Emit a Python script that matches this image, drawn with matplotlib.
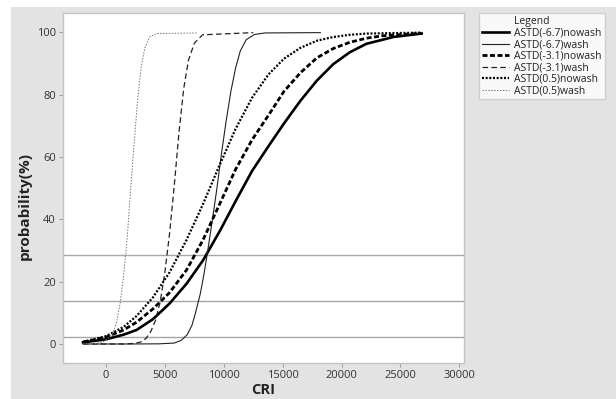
import matplotlib
matplotlib.use("Agg")
import matplotlib.pyplot as plt
from matplotlib.lines import Line2D
from matplotlib.patches import Rectangle

plt.rcParams['font.family'] = ['Open Sans', 'DejaVu Sans']

# ---- data -------------------------------------------------------------
m67_nowash_x = [-1950, 0, 1500, 2600, 4000, 5400, 6850, 8250, 9700, 11100, 12400,
                13800, 15100, 16500, 17900, 19300, 20700, 22100, 24400, 26800]
m67_nowash_y = [0.5, 1.5, 3.0, 4.5, 8.0, 13.0, 19.4, 26.9, 36.5, 46.5, 55.5,
                63.5, 70.7, 78.0, 84.5, 89.8, 93.6, 96.3, 98.5, 99.6]

m67_wash_x = [-1950, 2000, 4500, 5800, 6400, 6900, 7300, 7600, 8000, 8300, 8600,
              9000, 9400, 9800, 10200, 10600, 11000, 11400, 11900, 12600, 13500, 18200]
m67_wash_y = [0.0, 0.0, 0.05, 0.3, 1.2, 3.0, 6.0, 10.0, 16.0, 22.0, 29.0,
              39.0, 49.5, 61.0, 71.5, 81.0, 88.5, 94.0, 97.6, 99.3, 99.8, 99.9]

m31_nowash_x = [-1950, 0, 1500, 2600, 4000, 5400, 6850, 8250, 9600, 11000, 12400,
                13900, 15100, 16500, 17900, 19300, 20700, 22100, 23500, 26800]
m31_nowash_y = [0.6, 2.2, 4.5, 7.0, 11.3, 16.5, 23.8, 33.5, 44.5, 56.0, 65.5,
                74.0, 81.0, 87.0, 91.8, 94.8, 96.8, 98.1, 98.9, 99.7]

m31_wash_x = [-1950, 1500, 2500, 3000, 3400, 3800, 4200, 4600, 5000, 5400, 5800,
              6200, 6600, 7000, 7500, 8200, 12500]
m31_wash_y = [0.0, 0.0, 0.2, 0.7, 1.8, 4.0, 7.5, 13.5, 23.0, 35.5, 51.0,
              68.0, 82.0, 91.0, 96.5, 99.2, 99.9]

p05_nowash_x = [-1950, 0, 1500, 2600, 4000, 5400, 6850, 8250, 9600, 11000, 12400,
                13800, 15100, 16500, 17900, 19300, 20700, 22100, 26800]
p05_nowash_y = [0.7, 2.5, 5.5, 9.0, 15.0, 23.0, 33.5, 45.0, 57.0, 69.0, 79.0,
                86.5, 91.5, 95.0, 97.3, 98.5, 99.2, 99.6, 99.9]

p05_wash_x = [-1950, -1000, -300, 200, 600, 900, 1200, 1500, 1800, 2100, 2400,
              2700, 3000, 3300, 3700, 4300, 7700]
p05_wash_y = [0.0, 0.1, 0.6, 1.8, 3.6, 7.0, 13.0, 22.0, 34.0, 50.0, 65.0,
              79.0, 89.0, 95.0, 98.5, 99.6, 99.8]

ref_levels = [28.6, 13.9, 2.4]

series_names = ["ASTD(-6.7)nowash", "ASTD(-6.7)wash", "ASTD(-3.1)nowash",
                "ASTD(-3.1)wash", "ASTD(0.5)nowash", "ASTD(0.5)wash"]

x_ticks = [0, 5000, 10000, 15000, 20000, 25000, 30000]
y_ticks = [0, 20, 40, 60, 80, 100]

# ---- figure -----------------------------------------------------------
fig = plt.figure(figsize=(6.16, 3.99), dpi=100)
fig.patch.set_facecolor('white')
panel = Rectangle((11 / 616, 0), 1 - 11 / 616, 1 - 6.7 / 399,
                  transform=fig.transFigure, facecolor='#e3e3e3',
                  edgecolor='none', zorder=-10)
fig.add_artist(panel)

ax = fig.add_axes([63 / 616, 1 - 363 / 399, (464.3 - 63) / 616, (363 - 13.3) / 399])
ax.set_zorder(1)
ax.set_facecolor('white')

for lvl in ref_levels:
    ax.axhline(lvl, color='#a6a6a6', lw=1.0, zorder=1)

styles = [
    dict(color='black', lw=1.9, ls='-'),
    dict(color='#222222', lw=0.8, ls='-'),
    dict(color='black', lw=2.0, ls=(0, (1.8, 0.9))),
    dict(color='#222222', lw=0.9, ls=(0, (4.5, 2.6))),
    dict(color='black', lw=1.6, ls=(0, (0.9, 0.75))),
    dict(color='#777777', lw=0.7, ls=(0, (1.5, 1.5))),
]
data = [(m67_nowash_x, m67_nowash_y), (m67_wash_x, m67_wash_y),
        (m31_nowash_x, m31_nowash_y), (m31_wash_x, m31_wash_y),
        (p05_nowash_x, p05_nowash_y), (p05_wash_x, p05_wash_y)]

handles = []
for (xs, ys), st, name in zip(data, styles, series_names):
    ln, = ax.plot(xs, ys, label=name, zorder=3, **st)
    handles.append(ln)

ax.set_xlim(-3650, 30420)
ax.set_ylim(-6.1, 106.1)
ax.set_xticks(x_ticks)
ax.set_yticks(y_ticks)
ax.set_xticklabels([str(t) for t in x_ticks])
ax.set_yticklabels([str(t) for t in y_ticks])

for sp in ax.spines.values():
    sp.set_color('#c4c4c4')
    sp.set_linewidth(1.0)
ax.tick_params(axis='both', direction='out', length=3, width=0.8,
               color='#a0a0a0', labelsize=8, labelcolor='#333333', pad=2)

ax.set_xlabel('CRI', fontsize=10.5, fontweight='bold', color='#222222')
ax.xaxis.label.set_va('center')
ax.xaxis.set_label_coords(0.499, -0.077)
ax.set_ylabel('probability(%)', fontsize=11, fontweight='bold', color='#222222')
ax.yaxis.label.set_va('center')
ax.yaxis.set_label_coords(-0.095, 0.45)

# legend with its caption as the first (handle-less) row
title_handle = Line2D([], [], color='none')
leg = fig.legend([title_handle] + handles, ['Legend'] + series_names,
                 loc='upper left', bbox_to_anchor=(479 / 616, 1 - 13 / 399),
                 frameon=True, fancybox=False, fontsize=7.5,
                 handlelength=2.6, handletextpad=0.45, labelspacing=0.05,
                 borderpad=0.3, borderaxespad=0)
leg.set_zorder(5)
leg.get_frame().set_edgecolor('#c8c8c8')
leg.get_frame().set_linewidth(1.0)
for t in leg.get_texts():
    t.set_color('#222222')

fig.savefig('out.png', dpi=100, facecolor=fig.get_facecolor())
